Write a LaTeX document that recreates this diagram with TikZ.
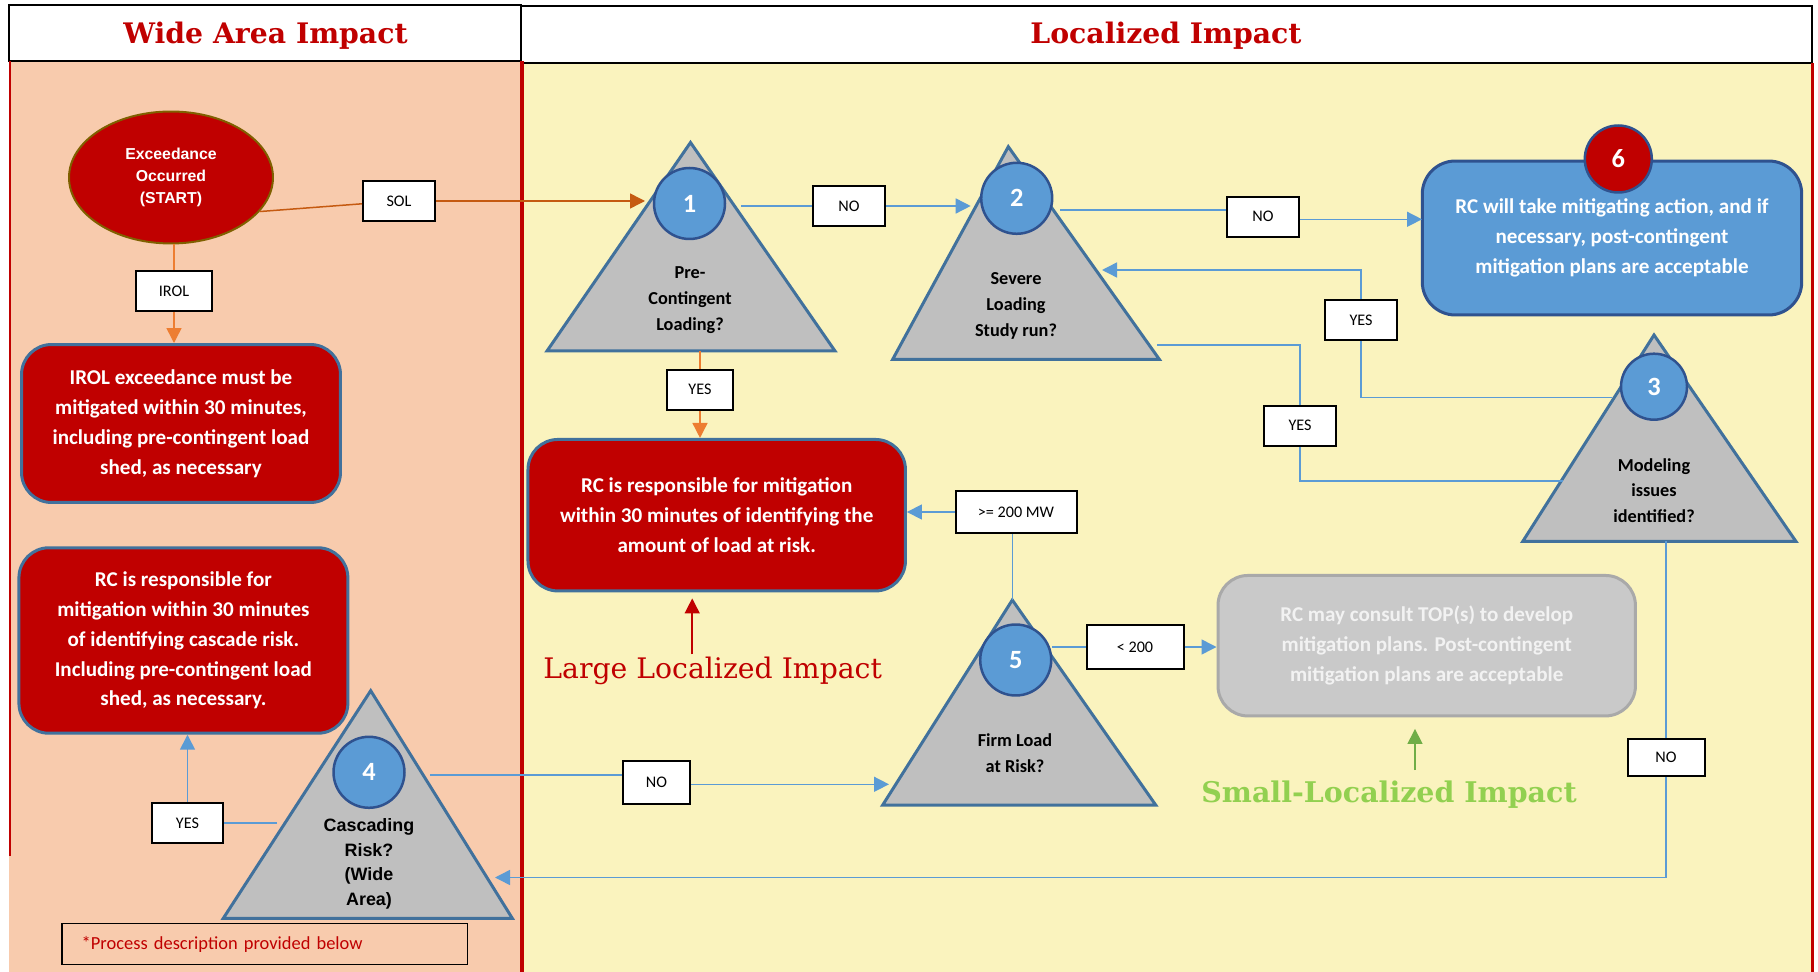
\documentclass[tikz,border=0pt]{standalone}
\usepackage{fontspec}
\setmainfont{Carlito}
\newfontfamily\arialf{Liberation Sans}
\newfontfamily\slabf{DejaVu Serif}
\usetikzlibrary{arrows.meta,shapes.geometric}

\definecolor{darkred}{HTML}{C00000}
\definecolor{peach}{HTML}{F8CBAD}
\definecolor{paleyellow}{HTML}{FAF3BE}
\definecolor{trigray}{HTML}{BFBFBF}
\definecolor{triblue}{HTML}{41719C}
\definecolor{navyblue}{HTML}{2F528F}
\definecolor{skyblue}{HTML}{5B9BD5}
\definecolor{olive}{HTML}{7F6000}
\definecolor{rust}{HTML}{C55A11}
\definecolor{orange}{HTML}{ED7D31}
\definecolor{leafgreen}{HTML}{70AD47}
\definecolor{limegreen}{HTML}{92D050}
\definecolor{boxgray}{HTML}{C9C9C9}
\definecolor{boxgrayline}{HTML}{A9A9A9}
\definecolor{offwhite}{HTML}{F2F2F2}

\tikzset{
  tri/.style={draw=triblue, fill=trigray, line width=0.06cm, line join=miter},
  num/.style={circle, draw=navyblue, fill=skyblue, line width=0.05cm, minimum size=1.42cm,
    inner sep=0pt, text=white, font=\fontsize{15}{15}\selectfont\bfseries},
  lbl/.style={draw=black, fill=white, line width=0.04cm, minimum width=1.44cm,
    minimum height=0.8cm, inner sep=0pt, font=\fontsize{9.2}{10}\selectfont},
  rbox/.style={rectangle, rounded corners=0.6cm, draw=triblue, fill=darkred, line width=0.06cm,
    inner sep=0pt, text=white, align=center, font=\fontsize{12}{17}\selectfont\bfseries},
  qtxt/.style={align=center, inner sep=0pt, font=\fontsize{10.4}{14.7}\selectfont\bfseries},
  heading/.style={text=darkred, inner sep=0pt, font=\slabf\bfseries\fontsize{16.1}{17}\selectfont},
  bline/.style={draw=skyblue, line width=0.03cm},
  barr/.style={bline, -{Triangle[length=0.3cm,width=0.3cm]}},
  oline/.style={draw=rust, line width=0.03cm},
  oarr/.style={oline, -{Triangle[length=0.3cm,width=0.3cm]}},
  oline2/.style={draw=orange, line width=0.03cm},
  oarr2/.style={oline2, -{Triangle[length=0.3cm,width=0.3cm]}},
}

\begin{document}
\begin{tikzpicture}[x=0.02cm, y=-0.02cm]
\useasboundingbox (0,0) rectangle (1818,972);
\fill[white] (0,0) rectangle (1818,972);

% panels and headers
\fill[peach] (9,61) rectangle (522,972);
\fill[paleyellow] (522,63) rectangle (1812,972);
\draw[line width=0.03cm, fill=white] (9,5) rectangle (521,61);
\draw[line width=0.03cm, fill=white] (521,6) rectangle (1812,63);
\draw[darkred, line width=0.06cm] (10,61) -- (10,856);
\draw[darkred, line width=0.08cm] (522,61) -- (522,972);
\draw[darkred, line width=0.06cm] (1812,63) -- (1812,972);
\node[heading] (hwide) at (265.5,36) {Wide Area Impact};
\node[heading] (hlocal) at (1166,36) {Localized Impact};

% start
\node[ellipse, draw=olive, fill=darkred, line width=0.04cm, minimum width=4.08cm, minimum height=2.64cm,
  inner sep=0pt, text=white, align=center, font=\arialf\bfseries\fontsize{9}{12.3}\selectfont]
  (start) at (171,177.5) {Exceedance\\Occurred\\(START)};

% decision triangles
\coordinate (t1a) at (690.5,142.5); \coordinate (t1l) at (547,351); \coordinate (t1r) at (835,351);
\draw[tri] (t1a) -- (t1l) -- (t1r) -- cycle;
\node[num] (c1) at (689.5,203.5) {1};
\node[qtxt] (q1) at (690,300) {Pre-\\Contingent\\Loading?};

\coordinate (t2a) at (1008.3,146.7); \coordinate (t2l) at (892.7,359.3); \coordinate (t2r) at (1159.3,359.3);
\draw[tri] (t2a) -- (t2l) -- (t2r) -- cycle;
\node[num] (c2) at (1016.7,198.3) {2};
\node[qtxt] (q2) at (1016,306) {Severe\\Loading\\Study run?};

\coordinate (t3a) at (1654,335); \coordinate (t3l) at (1522.7,541.5); \coordinate (t3r) at (1796,541.5);
\draw[tri] (t3a) -- (t3l) -- (t3r) -- cycle;
\node[num, minimum size=1.32cm] (c3) at (1654,386.7) {3};
\node[qtxt] (q3) at (1654,490.5) {Modeling\\issues\\identified?};

\coordinate (t4a) at (370.7,690.7); \coordinate (t4l) at (223.3,918.3); \coordinate (t4r) at (512.3,918.3);
\draw[tri] (t4a) -- (t4l) -- (t4r) -- cycle;
\node[num] (c4) at (369,772.3) {4};
\node[qtxt, font=\arialf\bfseries\fontsize{10.2}{14}\selectfont] (q4) at (369,864) {Cascading\\Risk?\\(Wide\\Area)};

\coordinate (t5a) at (1012.3,600); \coordinate (t5l) at (882.7,805); \coordinate (t5r) at (1155.7,805);
\draw[tri] (t5a) -- (t5l) -- (t5r) -- cycle;
\node[num] (c5) at (1015.7,660) {5};
\node[qtxt] (q5) at (1015,753.5) {Firm Load\\at Risk?};

% outcome boxes
\node[rbox, minimum width=6.38cm, minimum height=3.16cm] (irolbox) at (181,423.5)
  {IROL exceedance must be\\mitigated within 30 minutes,\\including pre-contingent load\\shed, as necessary};
\node[rbox, minimum width=7.55cm, minimum height=3.03cm] (largebox) at (716.7,515.2)
  {RC is responsible for mitigation\\within 30 minutes of identifying the\\amount of load at risk.};
\node[rbox, minimum width=6.58cm, minimum height=3.71cm] (cascbox) at (183.4,640.5)
  {RC is responsible for\\mitigation within 30 minutes\\of identifying cascade risk.\\Including pre-contingent load\\shed, as necessary.};
\node[rbox, draw=navyblue, fill=skyblue, rounded corners=0.66cm, minimum width=7.59cm, minimum height=3.08cm]
  (actbox) at (1612,238) {RC will take mitigating action, and if\\necessary, post-contingent\\mitigation plans are acceptable};
\node[num, fill=darkred, minimum size=1.34cm] (c6) at (1618.3,159) {6};
\node[rbox, draw=boxgrayline, fill=boxgray, text=offwhite, minimum width=8.35cm, minimum height=2.81cm]
  (smallbox) at (1426.7,645.7) {RC may consult TOP(s) to develop\\mitigation plans. Post-contingent\\mitigation plans are acceptable};

% labels on the connectors
\node[lbl] (sol) at (399,201) {SOL};
\node[lbl, minimum width=1.52cm] (irol) at (174,291) {IROL};
\node[lbl, minimum width=1.33cm] (yes1) at (700,389.7) {YES};
\node[lbl] (no1) at (849,206) {NO};
\node[lbl] (no2) at (1263,216.7) {NO};
\node[lbl] (yes3a) at (1361,320.5) {YES};
\node[lbl] (yes3b) at (1300,425.7) {YES};
\node[lbl, minimum width=1.54cm, minimum height=0.75cm] (no3) at (1666,757.3) {NO};
\node[lbl, minimum width=2.42cm, minimum height=0.86cm] (mw200) at (1016,512) {>= 200 MW};
\node[lbl, minimum width=1.94cm, minimum height=0.9cm] (lt200) at (1135,647) {< 200};
\node[lbl] (yes4) at (187.5,823) {YES};
\node[lbl, minimum width=1.34cm, minimum height=0.86cm] (no4) at (656.5,782.7) {NO};

% impact captions and note
\node[text=darkred, anchor=base, inner sep=0pt, font=\slabf\fontsize{16.1}{17}\selectfont]
  (large) at (712.7,678.3) {Large Localized Impact};
\node[text=limegreen, anchor=base, inner sep=0pt, font=\slabf\bfseries\fontsize{16.2}{17}\selectfont]
  (small) at (1389,802) {Small-Localized Impact};
\node[draw=black, line width=0.03cm, anchor=west, minimum height=0.82cm, text width=7.32cm, inner xsep=0.4cm,
  align=left, text=darkred, font=\fontsize{10.5}{12}\selectfont] (note) at (61,944) {*Process description provided below};

% connectors
\coordinate (e1) at (645,201);
\draw[oline] (start.-21) -- (sol);
\draw[oarr] (sol) -- (e1); %SOL
\draw[oline2] (start.south -| irol) -- (irol);
\draw[oarr2] (irol) -- (irol |- irolbox.north); %IROL
\draw[oline2] (yes1 |- t1l) -- (yes1);
\draw[oarr2] (yes1) -- (yes1 |- largebox.north);

\coordinate (s1) at (741,206); \coordinate (e2) at (970.7,206);
\draw[bline] (s1) -- (no1);
\draw[barr] (no1) -- (e2);

\coordinate (s2) at (1060,210); \coordinate (e6) at (1422,219.3);
\draw[bline] (s2) -- (s2 -| no2.west);
\draw[barr] (no2.east |- e6) -- (e6);

\coordinate (s3a) at (1612,397.7); \coordinate (e3a) at (1102,270);
\draw[bline] (s3a) -| (yes3a);
\draw[barr] (yes3a) |- (e3a);

\coordinate (s3b) at (1157,345); \coordinate (e3b) at (1563,481);
\draw[bline] (s3b) -| (yes3b);
\draw[bline] (yes3b) |- (e3b);

\coordinate (s3c) at (1666,541.5); \coordinate (e4) at (495,877.5);
\draw[bline] (s3c) -- (no3);
\draw[barr] (no3) |- (e4);

\coordinate (s4) at (277,823);
\draw[bline] (s4) -- (yes4);
\draw[barr] (yes4) -- (yes4 |- cascbox.south);

\coordinate (s4b) at (430,775); \coordinate (e5) at (889,784.3);
\draw[bline] (s4b) -- (s4b -| no4.west);
\draw[barr] (no4.east |- e5) -- (e5);

\draw[bline] (t5a) -- (t5a |- mw200.south);
\draw[barr] (mw200) -- (mw200 -| largebox.east);

\coordinate (s5) at (1052,647);
\draw[bline] (s5) -- (lt200);
\draw[barr] (lt200) -- (lt200 -| smallbox.west);

\draw[darkred, line width=0.03cm, -{Triangle[length=0.3cm,width=0.3cm]}, shorten <=0.04cm, shorten >=0.12cm]
  ([xshift=-0.41cm]large.north) -- ([xshift=-0.41cm]large.north |- largebox.south);
\draw[leafgreen, line width=0.03cm, -{Triangle[length=0.3cm,width=0.3cm]}, shorten <=0.2cm, shorten >=0.23cm]
  ([xshift=0.52cm]small.north) -- ([xshift=0.52cm]small.north |- smallbox.south);

\end{tikzpicture}
\end{document}
